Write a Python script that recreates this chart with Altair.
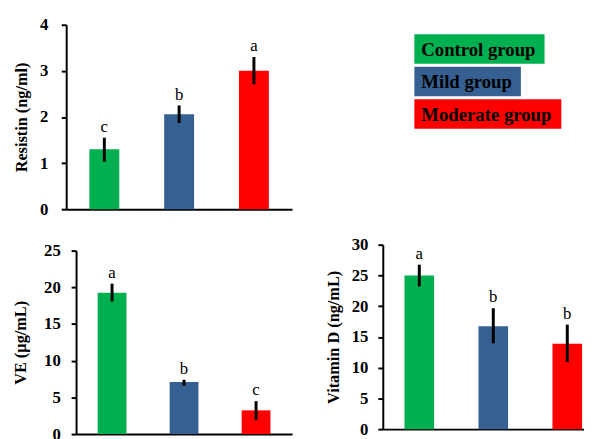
import altair as alt
import pandas as pd

groups = ["Control group", "Mild group", "Moderate group"]
colors = ["#00B050", "#376092", "#FF0000"]

resistin = [1.30, 2.06, 3.00]
resistin_lo = [1.03, 1.87, 2.71]
resistin_hi = [1.55, 2.25, 3.30]
resistin_letters = ["c", "b", "a"]

ve = [19.27, 7.08, 3.23]
ve_lo = [18.06, 6.6, 1.88]
ve_hi = [20.5, 7.4, 4.49]
ve_letters = ["a", "b", "c"]

vitd = [25.0, 16.73, 13.9]
vitd_lo = [23.2, 13.96, 10.92]
vitd_hi = [26.75, 19.67, 17.0]
vitd_letters = ["a", "b", "b"]

# legend box widths (layout/style)
legend_box_px = [132, 108, 149]

SERIF = "Liberation Serif"


def panel(values, lo, hi, letters, title, ymax, ticks, width, height, pad_outer,
          align, label_pad, title_pad):
    df = pd.DataFrame({"group": groups, "value": values, "lo": lo, "hi": hi,
                       "letter": letters})
    xscale = alt.Scale(paddingInner=0.6, paddingOuter=pad_outer, align=align)
    xaxis = alt.Axis(labels=False, ticks=False, title=None,
                     domainColor="black", domainWidth=2, grid=False)
    x = alt.X("group:N", sort=groups, scale=xscale, axis=xaxis)
    yscale = alt.Scale(domain=[0, ymax], nice=False)
    yaxis = alt.Axis(values=ticks, title=title, grid=False, labelOverlap=False,
                     domainColor="black", domainWidth=2,
                     tickColor="black", tickWidth=2, tickSize=5,
                     labelFont=SERIF, labelFontWeight="bold", labelFontSize=17,
                     labelColor="black", labelPadding=label_pad,
                     titleFont=SERIF, titleFontWeight="bold", titleFontSize=16.5,
                     titleColor="black", titlePadding=title_pad)
    base = alt.Chart(df)
    bars = base.mark_bar().encode(
        x=x,
        y=alt.Y("value:Q", scale=yscale, axis=yaxis),
        color=alt.Color("group:N", scale=alt.Scale(domain=groups, range=colors),
                        legend=None),
    )
    err = base.mark_rule(color="black", strokeWidth=3).encode(
        x=x, y=alt.Y("lo:Q", scale=yscale, axis=yaxis), y2="hi:Q")
    txt = base.mark_text(baseline="bottom", dy=-2, font=SERIF, fontSize=17,
                         color="black").encode(
        x=x, y=alt.Y("hi:Q", scale=yscale, axis=yaxis), text="letter:N")
    return alt.layer(bars, err, txt).properties(width=width, height=height)


def spacer(w, h):
    return alt.Chart(pd.DataFrame({"s": [0]})).mark_point(opacity=0).properties(
        width=w, height=h)


res_chart = panel(resistin, resistin_lo, resistin_hi, resistin_letters,
                  "Resistin (ng/ml)", 4, [0, 1, 2, 3, 4], 229, 187, 0.31, 0.5,
                  13.5, 10)
ve_chart = panel(ve, ve_lo, ve_hi, ve_letters, "VE (µg/mL)", 25,
                 [0, 5, 10, 15, 20, 25], 219, 186, 0.30, 0.5, 11, 15)
vitd_chart = panel(vitd, vitd_lo, vitd_hi, vitd_letters, "Vitamin D (ng/mL)", 30,
                   [0, 5, 10, 15, 20, 25, 30], 209, 187, 0.193, 0.76, 10, 10)

leg_df = pd.DataFrame({"group": groups, "w": legend_box_px})
leg_base = alt.Chart(leg_df)
leg_y = alt.Y("group:N", sort=groups, axis=None,
              scale=alt.Scale(paddingInner=0.09, paddingOuter=0.288))
leg_boxes = leg_base.mark_bar().encode(
    x=alt.X("w:Q", scale=alt.Scale(domain=[0, 149], nice=False), axis=None),
    y=leg_y,
    color=alt.Color("group:N", scale=alt.Scale(domain=groups, range=colors),
                    legend=None),
)
leg_text = leg_base.mark_text(align="left", baseline="middle", dx=7, dy=1,
                              font=SERIF, fontSize=19, fontWeight="bold",
                              color="black").encode(
    x=alt.datum(0),
    y=leg_y,
    text="group:N",
)
legend = alt.layer(leg_boxes, leg_text).properties(width=149, height=115)

ve_block = alt.hconcat(
    spacer(10, 1),
    alt.vconcat(spacer(1, 6), ve_chart, spacing=0, bounds="flush"),
    spacing=0, bounds="flush")
bottom = alt.hconcat(ve_block, vitd_chart, spacing=321, bounds="flush")
top = alt.hconcat(res_chart, legend, spacing=124, bounds="flush")

chart = alt.vconcat(top, bottom, spacing=223, bounds="flush").properties(
    autosize=alt.AutoSizeParams(type="none"),
    padding={"left": 59, "top": 14, "right": 525, "bottom": 417},
    background="white",
).configure_view(stroke=None)

chart.save("out.html", embed_options={"renderer": "svg", "actions": False})
